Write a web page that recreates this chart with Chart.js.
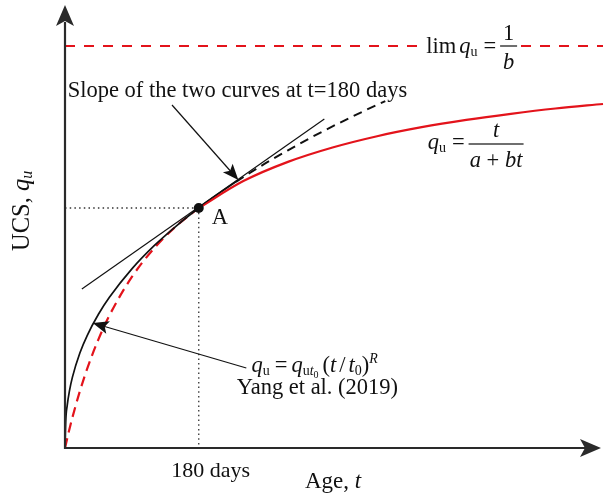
<!DOCTYPE html>
<html><head><meta charset="utf-8">
<script src="https://cdn.jsdelivr.net/npm/chart.js@4/dist/chart.umd.min.js"></script>
<style>html,body{margin:0;padding:0;background:#fff}#wrap{width:608px;height:499px}</style>
</head><body><div id="wrap"><canvas id="c" width="608" height="499"></canvas></div>
<script>
// ---- data (age in days, UCS in arbitrary units) ----
const ageYangSolid = [0, 1, 3, 6, 10, 20, 30, 45, 60, 90, 120, 150, 180, 205, 230];
const ucsYangSolid = [0, 0.268, 0.426, 0.571, 0.709, 0.950, 1.127, 1.337, 1.509, 1.791, 2.023, 2.222, 2.40, 2.535, 2.662];
const ageYangDashed = [230, 270, 300, 330, 360, 400, 431];
const ucsYangDashed = [2.662, 2.848, 2.977, 3.100, 3.216, 3.362, 3.469];
const ageHypDashed = [0, 5, 10, 20, 30, 45, 60, 90, 120, 150, 180];
const ucsHypDashed = [0, 0.159, 0.306, 0.568, 0.796, 1.087, 1.329, 1.711, 1.997, 2.221, 2.40];
const ageHypSolid = [180, 240, 300, 360, 420, 480, 540, 600, 660, 724];
const ucsHypSolid = [2.40, 2.669, 2.861, 3.005, 3.118, 3.208, 3.281, 3.342, 3.395, 3.440];
const ageLimit = [0, 724];
const ucsLimit = [4.02, 4.02];
const ageTangent = [22.7, 349];
const ucsTangent = [1.59, 3.29];
const pointA = {x: 180, y: 2.40};
const axisMax = {x: 724, y: 4.40};

const RED = '#e3131b';
const INK = '#111111';
const FS = 22.5;
const pts = (xs, ys) => xs.map((x, i) => ({x, y: ys[i]}));
const SERIF = '"Liberation Serif", "Times New Roman", serif';

function P(chart, t, q) {
  return [chart.scales.x.getPixelForValue(t), chart.scales.y.getPixelForValue(q)];
}
function font(size, italic) { return (italic ? 'italic ' : '') + size + 'px ' + SERIF; }
function runs(ctx, x, y, parts) {
  let cx = x;
  for (const p of parts) {
    ctx.font = font(p.s || FS, p.i);
    cx += (p.pre || 0);
    ctx.fillText(p.t, cx, y + (p.dy || 0));
    cx += ctx.measureText(p.t).width + (p.post || 0);
  }
  return cx;
}
function width(ctx, parts) {
  let w = 0;
  for (const p of parts) { ctx.font = font(p.s || FS, p.i); w += (p.pre||0) + ctx.measureText(p.t).width + (p.post||0); }
  return w;
}
function arrowHead(ctx, x1, y1, x2, y2, len, half, notch) {
  const a = Math.atan2(y2 - y1, x2 - x1);
  const c = Math.cos(a), s = Math.sin(a);
  ctx.beginPath();
  ctx.moveTo(x2, y2);
  ctx.lineTo(x2 - len * c + half * s, y2 - len * s - half * c);
  ctx.lineTo(x2 - (len - notch) * c, y2 - (len - notch) * s);
  ctx.lineTo(x2 - len * c - half * s, y2 - len * s + half * c);
  ctx.closePath();
  ctx.fill();
}
function leader(ctx, chart, from, to) {
  const [x1, y1] = P(chart, from[0], from[1]);
  const [x2, y2] = P(chart, to[0], to[1]);
  const a = Math.atan2(y2 - y1, x2 - x1);
  ctx.strokeStyle = INK; ctx.fillStyle = INK; ctx.lineWidth = 1.2;
  ctx.beginPath(); ctx.moveTo(x1, y1); ctx.lineTo(x2 - 8 * Math.cos(a), y2 - 8 * Math.sin(a)); ctx.stroke();
  arrowHead(ctx, x1, y1, x2, y2, 16, 6.5, 3.5);
}

const decor = {
  id: 'decor',
  beforeDatasetsDraw(chart) {
    const ctx = chart.ctx, ca = chart.chartArea;
    const [ax, ay] = P(chart, pointA.x, pointA.y);
    ctx.save();
    ctx.strokeStyle = '#333'; ctx.lineWidth = 1.3; ctx.setLineDash([1.5, 3.2]);
    ctx.beginPath(); ctx.moveTo(ca.left, ay); ctx.lineTo(ax, ay); ctx.moveTo(ax, ay); ctx.lineTo(ax, ca.bottom); ctx.stroke();
    ctx.restore();
  },
  afterDatasetsDraw(chart) {
    const ctx = chart.ctx, ca = chart.chartArea;
    ctx.save();
    // axes
    const [ox, oy] = P(chart, 0, 0);
    ctx.strokeStyle = '#2a2a2a'; ctx.fillStyle = '#2a2a2a'; ctx.lineWidth = 2.2;
    ctx.beginPath(); ctx.moveTo(ox, oy + 1); ctx.lineTo(ox, ca.top + 14); ctx.stroke();
    arrowHead(ctx, ox, oy, ox, ca.top - 3, 21, 9, 5);
    ctx.beginPath(); ctx.moveTo(ox - 1, oy); ctx.lineTo(ca.right - 16, oy); ctx.stroke();
    arrowHead(ctx, ox, oy, ca.right - 2, oy, 21, 9, 5);

    // leaders
    leader(ctx, chart, [144, 3.43], [233.3, 2.68]);
    leader(ctx, chart, [244, 0.80], [37.3, 1.25]);

    ctx.fillStyle = INK; ctx.textBaseline = 'alphabetic'; ctx.textAlign = 'left';
    // annotation: slope
    let [x, y] = P(chart, 3.6, 3.515);
    ctx.font = font(FS, false);
    ctx.fillText('Slope of the two curves at t=180 days', x, y);

    // limit label with white gap in the dashed line
    const [lx, ly] = P(chart, 486, 4.02);
    ctx.fillStyle = '#fff';
    ctx.fillRect(lx - 4, ly - 4, 98, 8);
    ctx.fillStyle = INK;
    let cx = runs(ctx, lx, ly + 7, [
      {t: 'lim', post: 3},
      {t: 'q', i: true},
      {t: 'u', s: 14, dy: 3, post: 6},
      {t: '=', post: 4}
    ]);
    ctx.fillRect(cx, ly - 0.6, 17, 1.2);
    ctx.textAlign = 'center';
    ctx.font = font(FS, false); ctx.fillText('1', cx + 8.5, ly - 6);
    ctx.font = font(FS, true); ctx.fillText('b', cx + 8.5, ly + 23);
    ctx.textAlign = 'left';

    // hyperbolic label
    [x, y] = P(chart, 488, 3.04);
    cx = runs(ctx, x, y + 5, [
      {t: 'q', i: true},
      {t: 'u', s: 14, dy: 3, post: 6},
      {t: '=', post: 4}
    ]);
    ctx.fillRect(cx, y - 0.6, 55, 1.2);
    ctx.textAlign = 'center';
    ctx.font = font(FS, true); ctx.fillText('t', cx + 27.5, y - 7);
    ctx.textAlign = 'left';
    const den = [{t: 'a', i: true}, {t: ' + ', pre: 0}, {t: 'bt', i: true}];
    runs(ctx, cx + 27.5 - width(ctx, den) / 2, y + 23, den);

    // Yang label
    [x, y] = P(chart, 251, 0.76);
    runs(ctx, x, y, [
      {t: 'q', i: true},
      {t: 'u', s: 14, dy: 3, post: 5},
      {t: '=', post: 4},
      {t: 'q', i: true},
      {t: 'u', s: 14, dy: 3},
      {t: 't', s: 14, i: true, dy: 3},
      {t: '0', s: 10, dy: 6, post: 4},
      {t: '('},
      {t: 't', i: true, post: 3},
      {t: '/', post: 3},
      {t: 't', i: true},
      {t: '0', s: 14, dy: 3},
      {t: ')'},
      {t: 'R', s: 14, i: true, dy: -9}
    ]);
    [x, y] = P(chart, 231, 0.54);
    ctx.font = font(FS, false);
    ctx.fillText('Yang et al. (2019)', x, y);

    // point label
    [x, y] = P(chart, 197.5, 2.24);
    ctx.fillText('A', x, y);

    // x tick label and axis titles
    [x, y] = P(chart, 180, 0);
    ctx.textAlign = 'center';
    ctx.font = font(22, false);
    ctx.fillText('180 days', x + 12, y + 29);
    ctx.textAlign = 'left';
    runs(ctx, 305, y + 40, [{t: 'Age, ', s: 23}, {t: 't', i: true, s: 23}]);

    ctx.save();
    ctx.translate(29, 251);
    ctx.rotate(-Math.PI / 2);
    runs(ctx, 0, 0, [{t: 'UCS, ', s: 24.5}, {t: 'q', i: true, s: 24.5}, {t: 'u', i: true, s: 16, dy: 3}]);
    ctx.restore();
    ctx.restore();
  }
};

new Chart(document.getElementById('c'), {
  type: 'line',
  data: {
    datasets: [
      {data: [pointA], showLine: false, order: 0, pointRadius: 5, pointBackgroundColor: INK, pointBorderColor: INK, pointBorderWidth: 0},
      {data: pts(ageTangent, ucsTangent), order: 1, borderColor: INK, borderWidth: 1.2, pointRadius: 0},
      {data: pts(ageYangDashed, ucsYangDashed), order: 2, borderColor: INK, borderWidth: 2, borderDash: [9, 6], pointRadius: 0, cubicInterpolationMode: 'monotone'},
      {data: pts(ageHypSolid, ucsHypSolid), order: 3, borderColor: RED, borderWidth: 2.2, pointRadius: 0, cubicInterpolationMode: 'monotone'},
      {data: pts(ageYangSolid, ucsYangSolid), order: 4, borderColor: INK, borderWidth: 1.7, pointRadius: 0, cubicInterpolationMode: 'monotone'},
      {data: pts(ageHypDashed, ucsHypDashed), order: 5, borderColor: RED, borderWidth: 2.2, borderDash: [10, 6], pointRadius: 0, cubicInterpolationMode: 'monotone'},
      {data: pts(ageLimit, ucsLimit), order: 6, borderColor: RED, borderWidth: 2.2, borderDash: [10, 9], pointRadius: 0}
    ]
  },
  options: {
    responsive: false, animation: false, devicePixelRatio: 1,
    layout: {padding: {left: 65, right: 0, top: 8, bottom: 51}},
    clip: false,
    scales: {
      x: {type: 'linear', min: 0, max: axisMax.x, display: false},
      y: {type: 'linear', min: 0, max: axisMax.y, display: false}
    },
    plugins: {legend: {display: false}, tooltip: {enabled: false}},
    elements: {line: {fill: false}}
  },
  plugins: [decor]
});
</script></body></html>
